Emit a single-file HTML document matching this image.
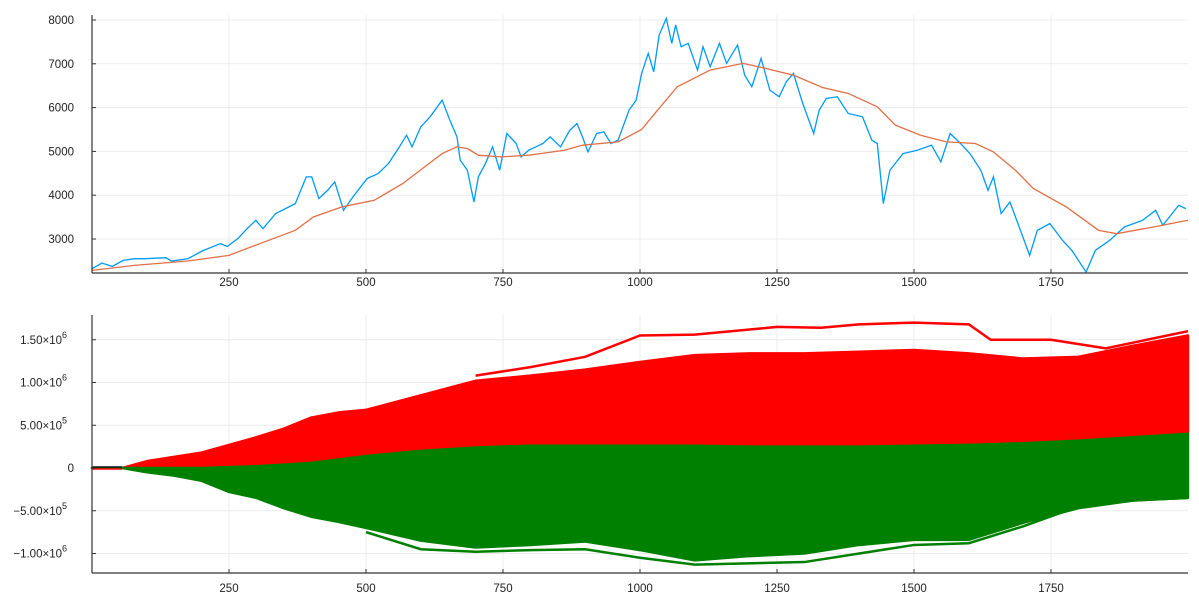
<!DOCTYPE html>
<html><head><meta charset="utf-8"><style>
body{margin:0;background:#fff}
svg{display:block;font-family:"Liberation Sans",sans-serif}
.t{font-size:11.5px;fill:#222}
.g{stroke:#ececec;stroke-width:1}
</style></head><body>
<svg id="c" width="1199" height="605" viewBox="0 0 1199 605" xmlns="http://www.w3.org/2000/svg">
<g id="grid"></g>
<g id="marks"></g>
<g id="axes"></g>
</svg>
<script>
const xTicks=[250,500,750,1000,1250,1500,1750];
const topYTicks=[3000,4000,5000,6000,7000,8000];
const botYTicks=[-1e6,-5e5,0,5e5,1e6,1.5e6];
const botYLabels=[["−1.00×10","6"],["−5.00×10","5"],["0",""],["5.00×10","5"],["1.00×10","6"],["1.50×10","6"]];
const priceX=[0,18,37,57,77,96,135,145,175,201,234,247,266,283,299,312,335,371,391,401,414,430,443,459,476,502,522,541,561,574,584,600,617,639,653,666,672,685,697,705,718,731,744,757,774,783,797,810,823,836,855,872,885,895,905,921,934,947,960,980,993,1003,1015,1025,1035,1048,1058,1065,1075,1088,1105,1115,1128,1145,1158,1178,1191,1204,1221,1237,1254,1267,1280,1297,1317,1327,1340,1360,1380,1406,1423,1433,1444,1456,1480,1506,1532,1549,1566,1582,1602,1622,1635,1645,1659,1675,1692,1711,1725,1748,1771,1788,1814,1831,1857,1884,1917,1941,1954,1983,1996];
const priceY=[2322,2451,2375,2512,2550,2550,2573,2497,2550,2726,2893,2832,3008,3236,3427,3236,3579,3808,4418,4418,3922,4113,4303,3655,3960,4380,4494,4723,5104,5370,5104,5561,5790,6171,5713,5332,4799,4570,3846,4418,4723,5104,4570,5409,5180,4875,5027,5104,5180,5332,5104,5485,5637,5332,4989,5409,5447,5180,5256,5942,6171,6780,7238,6819,7657,8038,7466,7886,7390,7466,6857,7390,6933,7466,7009,7428,6742,6476,7123,6399,6247,6590,6780,6094,5409,5942,6209,6247,5866,5790,5256,5180,3808,4570,4951,5027,5142,4761,5409,5218,4951,4570,4113,4418,3579,3846,3274,2626,3198,3351,2969,2741,2246,2741,2969,3274,3427,3655,3312,3770,3693];
const maX=[0,77,175,250,306,371,404,456,515,567,607,639,666,685,705,747,797,862,895,960,1003,1022,1068,1128,1188,1221,1280,1333,1380,1433,1466,1512,1559,1612,1645,1685,1718,1778,1837,1870,1937,2000];
const maY=[2284,2398,2497,2627,2893,3198,3503,3732,3884,4265,4646,4951,5104,5066,4913,4875,4913,5027,5142,5218,5500,5790,6476,6857,7009,6918,6742,6460,6323,6018,5599,5370,5218,5180,4989,4570,4151,3732,3198,3122,3274,3427];
const envX=[0,55,100,150,200,250,300,350,400,450,500,600,700,800,900,1000,1100,1200,1300,1400,1500,1600,1700,1800,1900,2000];
const redTop=[0,0,0.8,1.3,1.8,2.7,3.6,4.6,5.9,6.5,6.8,8.5,10.2,10.8,11.5,12.4,13.2,13.4,13.4,13.6,13.8,13.4,12.8,13.0,14.3,15.5];
const boundary=[0,0,0,0,0,0.1,0.2,0.4,0.6,1.0,1.4,2.0,2.4,2.6,2.6,2.6,2.6,2.5,2.5,2.5,2.6,2.7,2.9,3.2,3.6,4.0];
const greenBot=[0,0,-0.5,-0.9,-1.5,-2.8,-3.5,-4.7,-5.7,-6.3,-7.0,-8.5,-9.3,-9.0,-8.6,-9.6,-10.8,-10.3,-10.0,-9.0,-8.4,-8.4,-6.4,-4.7,-3.8,-3.5];
const redMaxX=[700,800,900,1000,1100,1250,1330,1400,1500,1600,1640,1750,1850,2000];
const redMaxY=[10.8,11.8,13.0,15.5,15.6,16.5,16.4,16.8,17.0,16.8,15.0,15.0,14.0,16.0];
const greenMinX=[500,600,700,800,900,1000,1100,1300,1500,1600,1700,1800,1900,2000];
const greenMinY=[-7.5,-9.5,-9.8,-9.6,-9.5,-10.5,-11.3,-11.0,-9.0,-8.8,-6.8,-4.5,-3.8,-3.5];

const NS="http://www.w3.org/2000/svg";
const X=d=>92+d*0.548;
const YT=v=>20+(8000-v)*0.0438;
const YB=v=>468-v*85.5e-6;
function mk(tag,attrs,parent){const e=document.createElementNS(NS,tag);for(const k in attrs)e.setAttribute(k,attrs[k]);document.getElementById(parent).appendChild(e);return e;}
// grid + ticks
xTicks.forEach(t=>{
  let g1=mk('line',{x1:X(t),x2:X(t),y1:15,y2:273,class:'g'},'grid');
  
  
  let g2=mk('line',{x1:X(t),x2:X(t),y1:315,y2:573,class:'g'},'grid');
  
  
  let l1=mk('text',{x:X(t),y:286,class:'t','text-anchor':'middle'},'axes');l1.textContent=t;
  
  
  let l2=mk('text',{x:X(t),y:592,class:'t','text-anchor':'middle'},'axes');l2.textContent=t;
  
  
  mk('line',{x1:X(t),x2:X(t),y1:273,y2:269,stroke:'#333'},'axes');
  mk('line',{x1:X(t),x2:X(t),y1:573,y2:569,stroke:'#333'},'axes');
});
topYTicks.forEach(t=>{
  let g=mk('line',{x1:92,x2:1188,y1:YT(t),y2:YT(t),class:'g'},'grid');
  
  
  let l=mk('text',{x:74,y:YT(t)+4,class:'t','text-anchor':'end'},'axes');l.textContent=t;
  
  
  mk('line',{x1:92,x2:96,y1:YT(t),y2:YT(t),stroke:'#333'},'axes');
});
botYTicks.forEach((t,i)=>{
  let g=mk('line',{x1:92,x2:1188,y1:YB(t),y2:YB(t),class:'g'},'grid');
  
  
  let l=mk('text',{x:74,y:YB(t)+4,class:'t','text-anchor':'end'},'axes');
  
  
  const [b,e]=botYLabels[i];
  if(e){l.setAttribute('x',67);l.textContent=b;let s=document.createElementNS(NS,'tspan');s.setAttribute('dy','-6');s.setAttribute('font-size','9');s.textContent=e;l.appendChild(s);}
  else l.textContent=b;
  mk('line',{x1:92,x2:96,y1:YB(t),y2:YB(t),stroke:'#333'},'axes');
});
// axes lines
[[92,15,92,273],[92,273,1188,273],[92,315,92,573],[92,573,1188,573]].forEach(a=>{
  let l=mk('line',{x1:a[0],y1:a[1],x2:a[2],y2:a[3],stroke:'#333','stroke-width':1.2},'axes');
  
  
});
// bottom: envelopes
function area(top,bot,fill,name){
  let d='M'+envX.map((x,i)=>X(x)+','+YB(top[i]*1e5)).join('L');
  for(let i=envX.length-1;i>=0;i--)d+='L'+X(envX[i])+','+YB(bot[i]*1e5);
  let p=mk('path',{d:d+'Z',fill:fill,stroke:fill,'stroke-width':2.5,'stroke-linejoin':'round'},'marks');
  
  
}
area(redTop,boundary,'#ff0000','red-paths-band');
area(boundary,greenBot,'#008000','green-paths-band');
let rm=mk('polyline',{points:redMaxX.map((x,i)=>X(x)+','+YB(redMaxY[i]*1e5)).join(' '),fill:'none',stroke:'#ff0000','stroke-width':2.5},'marks');


let gm=mk('polyline',{points:greenMinX.map((x,i)=>X(x)+','+YB(greenMinY[i]*1e5)).join(' '),fill:'none',stroke:'#008000','stroke-width':2.5},'marks');


let fl=mk('line',{x1:X(0),x2:X(55),y1:YB(0)-1,y2:YB(0)-1,stroke:'#111','stroke-width':1.5},'marks');


let fl2=mk('line',{x1:X(0),x2:X(55),y1:YB(0)+1,y2:YB(0)+1,stroke:'#ff0000','stroke-width':1.5},'marks');


// top lines
let pl=mk('polyline',{points:priceX.map((x,i)=>X(x)+','+YT(priceY[i])).join(' '),fill:'none',stroke:'#009afa','stroke-width':1.3},'marks');


let ml=mk('polyline',{points:maX.map((x,i)=>X(x)+','+YT(maY[i])).join(' '),fill:'none',stroke:'#e26f46','stroke-width':1.3},'marks');


</script>
</body></html>
